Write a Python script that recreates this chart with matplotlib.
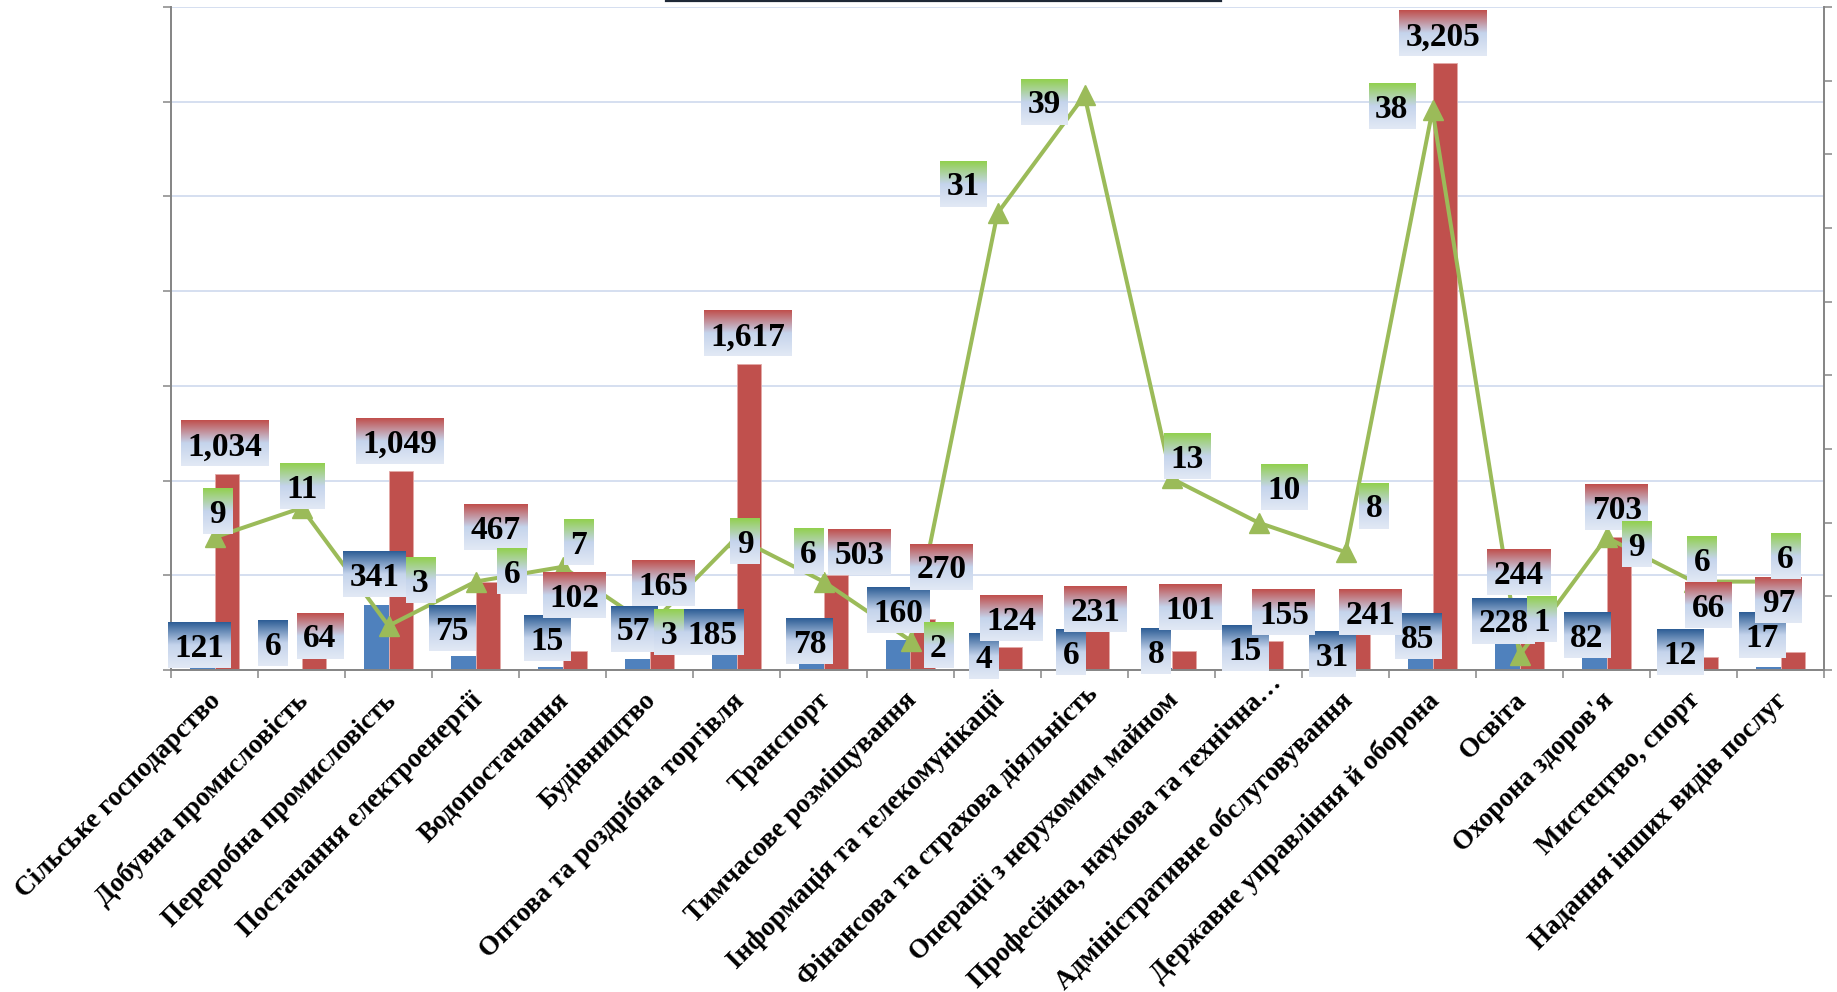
import matplotlib
matplotlib.use("Agg")
import matplotlib.pyplot as plt
import numpy as np
from matplotlib.image import BboxImage
from matplotlib.transforms import Bbox
from matplotlib.lines import Line2D
from matplotlib.colors import to_rgb

# ---------------- data ----------------
categories = [
    "Сільське господарство", "Добувна промисловість", "Переробна промисловість",
    "Постачання електроенергії", "Водопостачання", "Будівництво",
    "Оптова та роздрібна торгівля", "Транспорт", "Тимчасове розміщування",
    "Інформація та телекомунікації", "Фінансова та страхова діяльність",
    "Операції з нерухомим майном", "Професійна, наукова та технічна…",
    "Адміністративне обслуговування", "Державне управління й оборона",
    "Освіта", "Охорона здоров'я", "Мистецтво, спорт", "Надання інших видів послуг",
]
blue_values = [121, 6, 341, 75, 15, 57, 185, 78, 160, 4, 6, 8, 15, 31, 85, 228, 82, 12, 17]
red_values = [1034, 64, 1049, 467, 102, 165, 1617, 503, 270, 124, 231, 101, 155, 241, 3205, 244, 703, 66, 97]
green_values = [9, 11, 3, 6, 7, 3, 9, 6, 2, 31, 39, 13, 10, 8, 38, 1, 9, 6, 6]

left_ticks = list(range(0, 3501, 500))
right_ticks = list(range(0, 46, 5))

# ---------------- label placement (pixel offsets, reference-scaled) ----------------
SCALE = 1837 / 1568
blue_off = [(-2.5, 1.4), (-13.8, 22), (-1, 26), (-9.3, 23), (-2.6, 24.6), (-2.8, 25.8),
            (-10, 2), (-1.4, 11.4), (0.4, 25), (-1, 11), (-1, 14), (-2.4, 14.7),
            (-0.7, 15.6), (-1, 8), (-2, 15), (-3, 5), (-6, 16), (-1, 13), (-5, 27)]
red_off = [(-1.7, 25.8), (5, 18.7), (-1.3, 25.4), (6.5, 46.5), (-0.8, 47.5), (1, 47.3),
           (-1.3, 25.5), (20.4, 18.7), (16.2, 44.3), (1, 24), (-1.3, 14.6), (5.4, 36.7),
           (11, 24), (11, 10), (-1.4, 24.7), (-11.6, 43.5), (-1.9, 25.3), (1.8, 44.3),
           (-12.4, 43.3)]
green_off = [(2.9, 21.8), (0.6, 18.6), (27.3, 38.3), (31.1, 8.5), (13.8, 20.9), (16.6, -5.7),
             (7.3, -3.2), (-13, 25.5), (23.8, -4.2), (-29.5, 25), (-34.7, -5.6), (13, 18.5),
             (21.7, 30.2), (24.5, 39.4), (-34.8, 3), (19, 30.4), (25.7, -6.2), (7.4, 18.5),
             (4.2, 21.5)]
# shift of category label along its own direction (pixels)
cat_shift = [0] * 10 + [9, 0, 24] + [0] * 6

BLUE = "#4F81BD"
RED = "#C0504D"
GREEN = "#9BBB59"
AXIS_GRAY = "#868686"
GRID = "#D5DFF0"
SERIF = ["Liberation Serif", "DejaVu Serif"]

fig = plt.figure(figsize=(18.37, 9.92), dpi=100)
ax = fig.add_axes([171 / 1837, 322 / 992, 1653 / 1837, 663 / 992])
ax2 = ax.twinx()

n = len(categories)
x = np.arange(n)
bw = 1 / 3.5

ax.set_xlim(-0.5, n - 0.5)
ax.set_ylim(0, 3500)
ax2.set_ylim(0, 45)

ax.bar(x - bw / 2, blue_values, width=bw, color=BLUE, zorder=2, linewidth=0)
ax.bar(x + bw / 2, red_values, width=bw, color=RED, zorder=2, edgecolor="#E3A9A7", linewidth=0.6)

ax.set_yticks(left_ticks)
ax.set_yticklabels([])
ax.yaxis.grid(True, color=GRID, linewidth=1.4, zorder=0)
ax.set_axisbelow(True)
ax.set_xticks(np.arange(-0.5, n, 1.0))
ax.set_xticklabels([])
ax.tick_params(axis="both", direction="out", length=5.5, width=1.1, color=AXIS_GRAY)
ax2.set_yticks(right_ticks)
ax2.set_yticklabels([])
ax2.tick_params(axis="y", direction="out", length=5.5, width=1.1, color=AXIS_GRAY)

for a in (ax, ax2):
    a.spines["top"].set_visible(False)
    for s in ("left", "right", "bottom"):
        a.spines[s].set_color(AXIS_GRAY)
        a.spines[s].set_linewidth(1.3)

ax2.plot(x, green_values, color=GREEN, linewidth=2.9, marker="^", markersize=15,
         markerfacecolor=GREEN, markeredgecolor=GREEN, zorder=3, clip_on=False)

# category labels
for i, name in enumerate(categories):
    s = cat_shift[i] * 0.7071
    ax.annotate(name, xy=(i, 0), xycoords=("data", "axes fraction"),
                xytext=(-6 + s, -18 + s), textcoords="offset pixels",
                rotation=45, rotation_mode="anchor", ha="right", va="top",
                fontsize=19.5, fontweight="bold", family=SERIF, annotation_clip=False)

# data labels with gradient boxes
labels = []
FS = 24
BOX_H = 38.5 * SCALE
PADX = 5.5 * SCALE


def add_label(px, py, trans, text, off, top_color, z):
    dx, up = off[0] * SCALE, off[1] * SCALE
    t = ax2.annotate(text, xy=(px, py), xycoords=trans, xytext=(dx, up - 11.5),
                     textcoords="offset pixels", ha="center", va="baseline",
                     fontsize=FS, fontweight="bold", family=SERIF, color="black",
                     zorder=z + 1, annotation_clip=False)
    labels.append((t, px, py, trans, dx, up, top_color, z))


for i in range(n):
    add_label(x[i] - bw / 2, blue_values[i], ax.transData, f"{blue_values[i]:,}", blue_off[i], "#2E5E96", 4)
for i in range(n):
    add_label(x[i] + bw / 2, red_values[i], ax.transData, f"{red_values[i]:,}", red_off[i], "#C0504D", 6)
for i in range(n):
    add_label(x[i], green_values[i], ax2.transData, f"{green_values[i]:,}", green_off[i], "#92D050", 8)

fig.canvas.draw()
renderer = fig.canvas.get_renderer()


def gradient(top):
    top = np.array(to_rgb(top))
    mid = np.array(to_rgb("#C5D4EC"))
    bot = np.array(to_rgb("#E2E9F5"))
    N = 64
    rows = []
    for k in range(N):
        f = k / (N - 1)
        if f < 0.5:
            c = top + (mid - top) * (f / 0.5)
        else:
            c = mid + (bot - mid) * ((f - 0.5) / 0.5)
        rows.append(c)
    return np.array(rows).reshape(N, 1, 3)


for t, px, py, trans, dx, up, top_color, z in labels:
    bb = t.get_window_extent(renderer)
    ax_, ay_ = trans.transform((px, py))
    cx = (bb.x0 + bb.x1) / 2
    cy = ay_ + up
    w = bb.width + 2 * PADX
    box = Bbox.from_extents(cx - w / 2, cy - BOX_H / 2, cx + w / 2, cy + BOX_H / 2)
    img = BboxImage(box, interpolation="bilinear", zorder=z)
    img.set_data(gradient(top_color))
    img.set_clip_on(False)
    ax2.add_artist(img)

# top border fragment
fig.add_artist(Line2D([666 / 1837, 1221 / 1837], [1 - 1 / 992, 1 - 1 / 992],
                      color="#1F2937", linewidth=1.6))

fig.savefig("out.png", dpi=100)
